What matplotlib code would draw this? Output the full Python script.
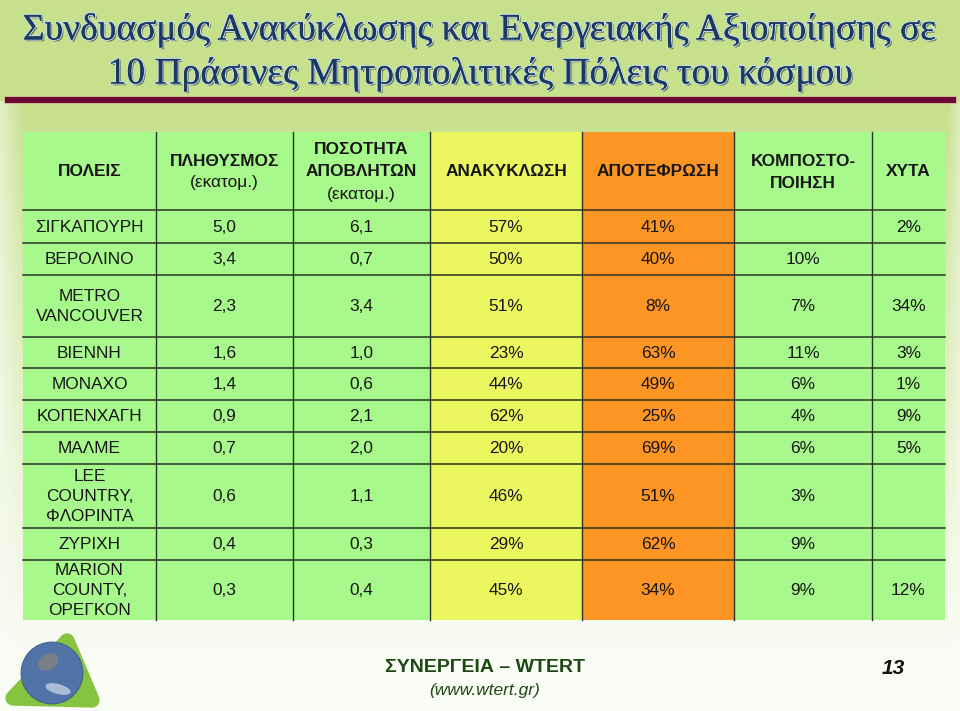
import matplotlib
matplotlib.use("Agg")
import matplotlib.pyplot as plt
import numpy as np
from matplotlib import patheffects as pe
from matplotlib.patches import Rectangle, Circle, Polygon, Ellipse

# table data
cities = ["ΣΙΓΚΑΠΟΥΡΗ", "ΒΕΡΟΛΙΝΟ", "METRO\nVANCOUVER", "ΒΙΕΝΝΗ", "ΜΟΝΑΧΟ",
          "ΚΟΠΕΝΧΑΓΗ", "ΜΑΛΜΕ", "LEE\nCOUNTRY,\nΦΛΟΡΙΝΤΑ", "ΖΥΡΙΧΗ",
          "MARION\nCOUNTY,\nΟΡΕΓΚΟΝ"]
population = [5.0, 3.4, 2.3, 1.6, 1.4, 0.9, 0.7, 0.6, 0.4, 0.3]   # εκατομ.
waste = [6.1, 0.7, 3.4, 1.0, 0.6, 2.1, 2.0, 1.1, 0.3, 0.4]        # εκατομ.
recycling = [57, 50, 51, 23, 44, 62, 20, 46, 29, 45]
incineration = [41, 40, 8, 63, 49, 25, 69, 51, 62, 34]
composting = [None, 10, 7, 11, 6, 4, 6, 3, 9, 9]
landfill = [2, None, 34, 3, 1, 9, 5, None, None, 12]

headers = [["ΠΟΛΕΙΣ"], ["ΠΛΗΘΥΣΜΟΣ"], ["ΠΟΣΟΤΗΤΑ", "ΑΠΟΒΛΗΤΩΝ"], ["ΑΝΑΚΥΚΛΩΣΗ"],
           ["ΑΠΟΤΕΦΡΩΣΗ"], ["ΚΟΜΠΟΣΤΟ-", "ΠΟΙΗΣΗ"], ["ΧΥΤΑ"]]
header_units = [None, "(εκατομ.)", "(εκατομ.)", None, None, None, None]

title1 = "Συνδυασμός Ανακύκλωσης και Ενεργειακής Αξιοποίησης σε"
title2 = "10 Πράσινες Μητροπολιτικές Πόλεις του κόσμου"

# layout (pixels)
col_edges = [23, 156, 293, 430, 582, 734, 872, 945]
row_edges = [132, 210, 243, 275, 337, 368, 400, 432, 464, 528, 560, 620]
GREEN, YELLOW, ORANGE = "#a8f98c", "#ecf760", "#fd9524"
col_colors = [GREEN, GREEN, GREEN, YELLOW, ORANGE, GREEN, GREEN]

fig = plt.figure(figsize=(9.6, 7.11), dpi=100)
ax = fig.add_axes([0, 0, 1, 1])
ax.set_xlim(0, 960)
ax.set_ylim(711, 0)
ax.axis("off")

# slide background: green band on top, fading to white below
H, W = 711, 960
yy, xx = np.mgrid[0:H, 0:W]
top = np.array([198, 224, 140]) / 255.0
white = np.array([250, 252, 246]) / 255.0
t = np.clip((yy - 100) / 560.0, 0, 1) ** 0.9
t = np.where(yy < 100, 0, t)
edge = np.clip((22 - xx) / 22.0, 0, 1) * 0.55 + np.clip((xx - 947) / 13.0, 0, 1) * 0.45
t = np.clip(t + edge * (1 - t) * (yy > 100), 0, 1)
bg = top[None, None, :] * (1 - t[..., None]) + white[None, None, :] * t[..., None]
ax.imshow(bg, extent=[0, W, H, 0], zorder=0, aspect="auto")

# maroon rule under the title
ax.add_patch(Rectangle((4, 96), 952, 7, facecolor="#6b0a35", edgecolor="#d8c79a",
                       linewidth=0.6, zorder=2))

# title
tfx = dict(family="Liberation Serif", color="#1b3a62", ha="center", va="center", zorder=5,
           path_effects=[pe.withSimplePatchShadow(offset=(1.2, -1.2), shadow_rgbFace="#0b1a2a", alpha=0.6),
                         pe.withStroke(linewidth=1.6, foreground="#c9dbe6"), pe.Normal()])
t1 = ax.text(479, 30, title1, fontsize=30, **tfx)
t2 = ax.text(480, 74, title2, fontsize=30, **tfx)
fig.canvas.draw()
r = fig.canvas.get_renderer()
fs = 30 * 912 / t1.get_window_extent(r).width
t1.set_fontsize(fs)
t2.set_fontsize(fs)

# table cells
y0, y1 = row_edges[0], row_edges[-1]
for j, c in enumerate(col_colors):
    ax.add_patch(Rectangle((col_edges[j], y0), col_edges[j + 1] - col_edges[j], y1 - y0,
                           facecolor=c, edgecolor="none", zorder=2))
line_c = "#2b3326"
for y in row_edges[1:-1]:
    ax.plot([col_edges[0], col_edges[-1]], [y, y], color=line_c, lw=1.1, zorder=3)
for x in col_edges[1:-1]:
    ax.plot([x, x], [y0, y1], color=line_c, lw=1.0, zorder=3)

FS = 12.4
txt_c = "#161616"
font = dict(family="Liberation Sans", color=txt_c, ha="center", va="center", zorder=4)
centers = [(col_edges[j] + col_edges[j + 1]) / 2 for j in range(len(col_edges) - 1)]
hy = (row_edges[0] + row_edges[1]) / 2

for j, lines in enumerate(headers):
    items = [(s, "bold") for s in lines]
    if header_units[j] is not None:
        items.append((header_units[j], "normal"))
    n = len(items)
    for k, (s, wt) in enumerate(items):
        ax.text(centers[j], hy + 1 + (k - (n - 1) / 2) * 22, s, fontsize=FS, fontweight=wt, **font)


def num(v):
    return "" if v is None else f"{v:.1f}".replace(".", ",")


def pct(v):
    return "" if v is None else f"{v}%"


columns = [cities, [num(v) for v in population], [num(v) for v in waste],
           [pct(v) for v in recycling], [pct(v) for v in incineration],
           [pct(v) for v in composting], [pct(v) for v in landfill]]
for i in range(len(cities)):
    cy = (row_edges[i + 1] + row_edges[i + 2]) / 2
    for j, col in enumerate(columns):
        ax.text(centers[j], cy + 0.5, col[i], fontsize=FS, linespacing=1.4, **font)

# logo: green rounded triangle with the earth
ax.add_patch(Polygon([(67, 641), (13, 698), (92, 700)], closed=True, facecolor="#86c440",
                     edgecolor="#86c440", lw=11, joinstyle="round", zorder=3))
ax.add_patch(Circle((52, 673), 31, facecolor="#5073a8", edgecolor="#3c5a86", lw=0.6, zorder=4))
ax.add_patch(Ellipse((48, 662), 22, 16, angle=-30, facecolor="#9a8a6a", alpha=0.55, zorder=5))
ax.add_patch(Ellipse((58, 689), 26, 10, angle=15, facecolor="#e8eef5", alpha=0.6, zorder=5))

# footer
ax.text(485, 667, "ΣΥΝΕΡΓΕΙΑ – WTERT", fontsize=14, fontweight="bold", color="#1d4a12",
        family="Liberation Sans", ha="center", va="center", zorder=4)
ax.text(485, 691, "(www.wtert.gr)", fontsize=12.5, style="italic", color="#1d4a12",
        family="Liberation Sans", ha="center", va="center", zorder=4)
ax.text(893, 668, "13", fontsize=15, style="italic", fontweight="bold", color="#111111",
        family="Liberation Sans", ha="center", va="center", zorder=4)

fig.savefig("out.png", dpi=100)
